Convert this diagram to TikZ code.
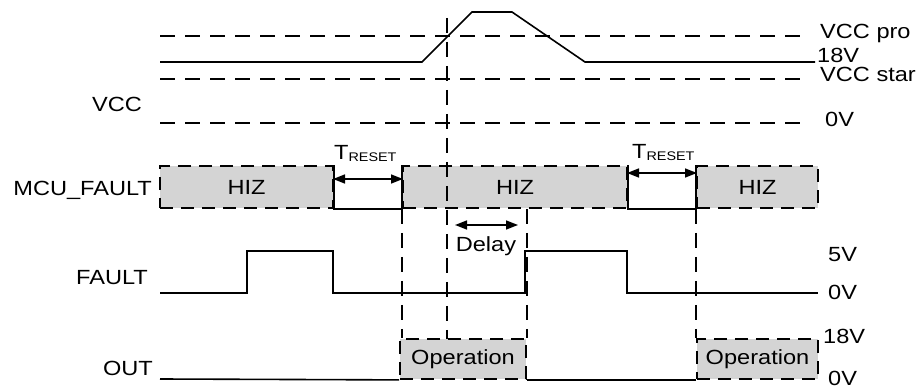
\documentclass[tikz,border=0pt]{standalone}
\usepackage{fontspec}
\setmainfont{Liberation Sans}[FakeStretch=1.15]
\usetikzlibrary{arrows.meta}
\definecolor{boxfill}{RGB}{212,212,212}
\begin{document}
\begin{tikzpicture}[x=1pt,y=-1pt,
  txt/.style={inner sep=0pt, font=\fontsize{20.5}{24}\selectfont},
  lblw/.style={txt, anchor=base west},
  lble/.style={txt, anchor=base east},
  sig/.style={line width=1.6pt, line join=miter},
  dsh/.style={line width=2pt, dash pattern=on 15pt off 10pt},
  vdsh/.style={line width=1.8pt, dash pattern=on 15pt off 9pt},
  statebox/.style={txt, draw, line width=1.8pt, dash pattern=on 13pt off 8pt, fill=boxfill, inner sep=2pt, minimum height=42pt},
  opbox/.style={statebox, minimum height=40pt},
  dim/.style={line width=1.6pt, {Triangle[length=12pt,width=9pt]}-{Triangle[length=12pt,width=9pt]}}
]
\useasboundingbox (0,0) rectangle (919,390);

% ---------- VCC ----------
\coordinate (vp0) at (160,36);  \coordinate (vp1) at (807,36);
\coordinate (vs0) at (160,79);  \coordinate (vs1) at (807,79);
\coordinate (vz0) at (160,123); \coordinate (vz1) at (807,123);
\draw[dsh] (vp0) -- (vp1);
\draw[dsh] (vs0) -- (vs1);
\draw[dsh] (vz0) -- (vz1);
\coordinate (v0) at (160,62);
\coordinate (v1) at (422,62);
\coordinate (v2) at (472,12);
\coordinate (v3) at (512,12);
\coordinate (v4) at (585,62);
\coordinate (v5) at (815,62);
\draw[sig] (v0) -- (v1) -- (v2) -- (v3) -- (v4) -- (v5);

\node[lble] (lvcc) at (142,112) {VCC};
\node[lblw] (lvpro) at (820,39) {VCC pro};
\node[lblw] (l18a) at (817,63) {18V};
\node[lblw] (lvstar) at (820,81.5) {VCC star};
\node[lblw] (l0a) at (825,127) {0V};

% ---------- MCU_FAULT ----------
\node[statebox, minimum width=173pt] (h1) at (246.5,187) {HIZ};
\node[statebox, minimum width=224pt] (h2) at (515,187) {HIZ};
\node[statebox, minimum width=121pt] (h3) at (757.5,187) {HIZ};
\draw[sig] (h1.north east) |- (h2.south west) -- (h2.north west);
\draw[sig] (h2.north east) |- (h3.south west) -- (h3.north west);
\node[lble] (lmcu) at (152,196) {MCU\_FAULT};

\coordinate (t1a) at (333,179); \coordinate (t1b) at (403,179);
\coordinate (t2a) at (627,173); \coordinate (t2b) at (697,173);
\draw[dim] (t1a) -- (t1b);
\draw[dim] (t2a) -- (t2b);
\node[lblw] (tr1) at (334,160) {T\raisebox{-2pt}{\fontsize{12.5}{14}\selectfont RESET}};
\node[lblw] (tr2) at (632,159) {T\raisebox{-2pt}{\fontsize{12.5}{14}\selectfont RESET}};

% ---------- FAULT ----------
\coordinate (f0) at (160,293);
\coordinate (f1) at (247,293);
\coordinate (f2) at (247,251);
\coordinate (f3) at (333,251);
\coordinate (f4) at (333,293);
\coordinate (f5) at (525,293);
\coordinate (f6) at (525,251);
\coordinate (f7) at (627,251);
\coordinate (f8) at (627,293);
\coordinate (f9) at (818,293);
\draw[sig] (f0) -- (f1) -- (f2) -- (f3) -- (f4) -- (f5) -- (f6) -- (f7) -- (f8) -- (f9);
\node[lble] (lfault) at (148,285) {FAULT};
\node[lblw] (l5v) at (828,262) {5V};
\node[lblw] (l0b) at (828,300) {0V};

% ---------- OUT ----------
\node[opbox, minimum width=126pt] (o1) at (463,359) {Operation};
\node[opbox, minimum width=121pt] (o2) at (757.5,359) {Operation};
\coordinate (out0) at (160,379);
\draw[sig] (out0) -- (o1.south west);
\draw[sig] (o1.south east) -- (o2.south west);
\node[lble] (lout) at (153,375) {OUT};
\node[lblw] (l18b) at (823,343) {18V};
\node[lblw] (l0c) at (828,385) {0V};

% ---------- vertical guides ----------
\coordinate (g1top) at (447,18);
\coordinate (g1bot) at (447,339);
\draw[vdsh] (g1top) -- (g1bot);
\draw[vdsh] (h2.south west) -- (h2.south west |- o1.north);
\draw[vdsh] (o1.north east |- h2.south) -- (o1.north east);
\draw[vdsh] (h3.south west) -- (o2.north west);

% ---------- Delay ----------
\coordinate (d0) at (455,225); \coordinate (d1) at (518,225);
\draw[dim] (d0) -- (d1);
\node[txt, anchor=base] (ldelay) at (486,252) {Delay};
\end{tikzpicture}
\end{document}
